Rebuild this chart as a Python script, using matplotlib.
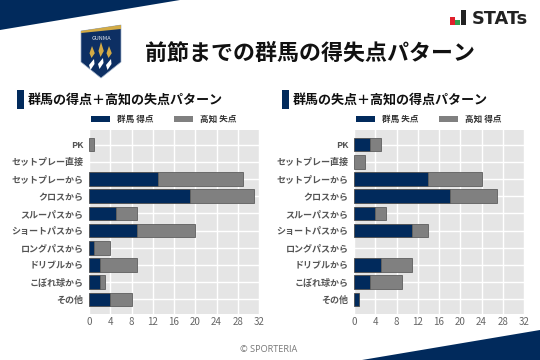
import matplotlib as mpl
mpl.use('Agg')
import matplotlib.pyplot as plt
from matplotlib.patches import Polygon, Rectangle

plt.rcParams['font.family'] = ['Noto Sans CJK JP', 'DejaVu Sans']

W, H = 540, 360
NAVY = '#012a5c'
GRAY = '#808080'

categories = ['PK', 'セットプレー直接', 'セットプレーから', 'クロスから', 'スルーパスから',
              'ショートパスから', 'ロングパスから', 'ドリブルから', 'こぼれ球から', 'その他']
xticks = [0, 4, 8, 12, 16, 20, 24, 28, 32]

left_title = '群馬の得点＋高知の失点パターン'
left_names = ['群馬 得点', '高知 失点']
left_home = [0, 0, 13, 19, 5, 9, 1, 2, 2, 4]
left_away = [1, 0, 16, 12, 4, 11, 3, 7, 1, 4]

right_title = '群馬の失点＋高知の得点パターン'
right_names = ['群馬 失点', '高知 得点']
right_home = [3, 0, 14, 18, 4, 11, 0, 5, 3, 1]
right_away = [2, 2, 10, 9, 2, 3, 0, 6, 6, 0]

fig = plt.figure(figsize=(W/100, H/100), dpi=100, facecolor='white')

# overlay in pixel coords for banners, logo and headings
bg = fig.add_axes([0, 0, 1, 1])
bg.set_xlim(0, W)
bg.set_ylim(H, 0)
bg.axis('off')

bg.add_patch(Polygon([(0, 0), (180, 0), (0, 30)], color=NAVY, lw=0))
bg.add_patch(Polygon([(362, 360), (540, 330), (540, 360)], color=NAVY, lw=0))

# team crest
bg.add_patch(Polygon([(81, 31), (121, 25), (121, 62), (101, 78), (81, 62)], fc='#0d2f63', ec='#9fb0c8', lw=0.5))
bg.add_patch(Polygon([(81, 31), (121, 25), (121, 29), (81, 33)], color='#d3ab45', lw=0))
bg.text(101, 39, 'GUNMA', color='#dfe5ee', fontsize=4, ha='center', va='center')
for fx, top, h in [(92, 46, 12), (101, 42, 15), (109, 46, 12)]:
    bg.add_patch(Polygon([(fx, top), (fx+2.8, top+h*0.6), (fx-0.5, top+h), (fx-2.5, top+h*0.6)], color='#d3ab45', lw=0))
    bg.add_patch(Polygon([(fx+2, top+h+1), (fx+2.5, top+h+6), (fx-1.5, top+h+12), (fx-3, top+h+7)], color='white', lw=0))

# STATs mark
for bx, by, bw, bh, c in [(450, 17, 5, 8, '#e0202c'), (455, 20, 5, 5, '#2e9e4f'), (461, 10, 4.5, 15, '#222222')]:
    bg.add_patch(Rectangle((bx, by), bw, bh, color=c, lw=0))
bg.text(472, 18.5, 'STATs', fontsize=12.8, weight='bold', family='DejaVu Sans', color='#222222', ha='left', va='center')

bg.text(145, 53, '前節までの群馬の得失点パターン', fontsize=15.8, weight='bold', color='#111111', ha='left', va='center')
bg.text(269, 350, '© SPORTERIA', fontsize=6.6, family='Open Sans', color='#777777', ha='center', va='center')


def panel(x0, title, names, home, away):
    bg.add_patch(Rectangle((x0 - 72, 90), 7, 19, color=NAVY, lw=0))
    bg.text(x0 - 61, 99.5, title, fontsize=9.4, weight='bold', color='#111111', ha='left', va='center')
    for sx, name, c in [(x0 + 2, names[0], NAVY), (x0 + 85, names[1], GRAY)]:
        bg.add_patch(Rectangle((sx, 116), 19, 6, color=c, lw=0))
        bg.text(sx + 26, 119.5, name, fontsize=6.2, weight='bold', color='#333333', ha='left', va='center')

    ax = fig.add_axes([x0/W, 1 - 314/H, 170/W, 184/H], facecolor='#e5e5e5')
    rows = list(range(len(categories)))
    bars1 = ax.barh(rows, home, height=0.8, color=NAVY, edgecolor='#4d4d4d', linewidth=0.6, zorder=3)
    bars2 = ax.barh(rows, away, left=home, height=0.8, color=GRAY, edgecolor='#5e5e5e', linewidth=0.6, zorder=3)
    for b in list(bars1) + list(bars2):
        if b.get_width() == 0:
            b.set_visible(False)
    ax.set_xlim(0, 32)
    ax.set_ylim(9.85, -0.85)
    ax.set_xticks(xticks)
    ax.set_yticks(rows, categories)
    ax.grid(True, color='white', lw=1, zorder=1)
    ax.set_axisbelow(True)
    for s in ax.spines.values():
        s.set_visible(False)
    ax.tick_params(axis='x', length=0, pad=2.5, labelsize=7, labelcolor='#666666')
    ax.tick_params(axis='y', length=0, pad=4, labelsize=6.5, labelcolor='#555555')
    for t in ax.get_yticklabels():
        t.set_fontweight('bold')


panel(89, left_title, left_names, left_home, left_away)
panel(354, right_title, right_names, right_home, right_away)

fig.savefig('out.png', dpi=100)
